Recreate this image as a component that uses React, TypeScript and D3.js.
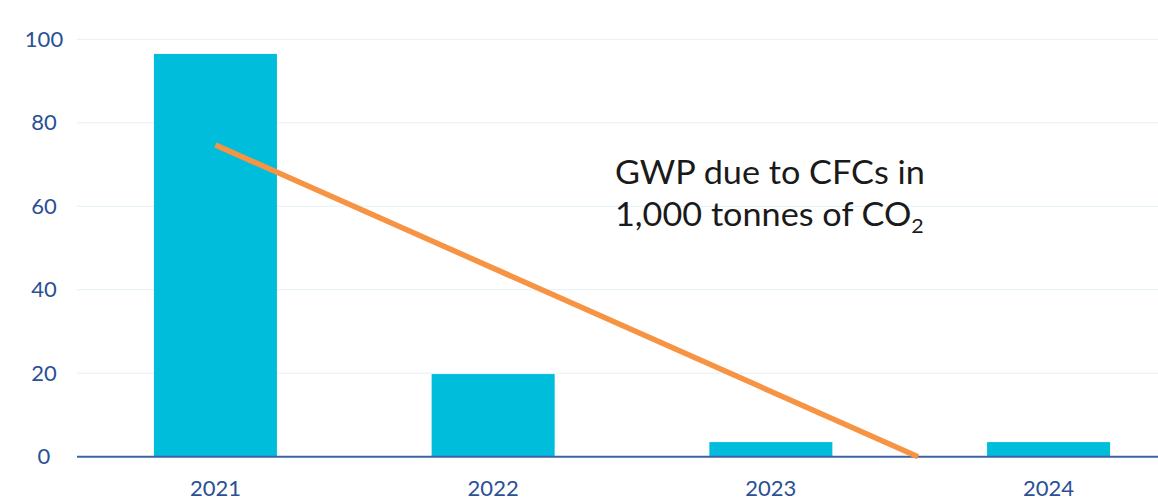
import { useEffect, useRef } from "react";
import * as d3 from "d3";

const years = ["2021", "2022", "2023", "2024"];
const gwpValues = [96.5, 19.8, 3.5, 3.5];
// trend line: category index -> value
const trendIndex = [0, 2.53];
const trendValues = [74.7, 0];
const yTicks = [0, 20, 40, 60, 80, 100];
const noteLines = ["GWP due to CFCs in", "1,000 tonnes of CO"];

const W = 1158;
const H = 500;

export default function App() {
  const svgRef = useRef<SVGSVGElement | null>(null);

  useEffect(() => {
    if (!svgRef.current) return;
    const svg = d3.select(svgRef.current);
    svg.selectAll("*").remove();

    const left = 77;
    const right = 1187;
    const y0 = 456.7;
    const y100 = 39.3;

    const x = d3
      .scaleBand<string>()
      .domain(years)
      .range([left, right])
      .paddingInner(0.557)
      .paddingOuter(0.277);

    const y = d3.scaleLinear().domain([0, 100]).range([y0, y100]);

    // index scale for trend line, aligned to band centres
    const xi = d3
      .scaleLinear()
      .domain([0, years.length - 1])
      .range([
        (x(years[0]) || 0) + x.bandwidth() / 2,
        (x(years[years.length - 1]) || 0) + x.bandwidth() / 2,
      ]);

    const font = "Lato, 'Open Sans', sans-serif";
    const labelColor = "#2a5095";

    // gridlines
    svg
      .append("g")
      .selectAll("line")
      .data(yTicks.filter((t) => t > 0))
      .enter()
      .append("line")
      .attr("x1", left)
      .attr("x2", W)
      .attr("y1", (d) => y(d))
      .attr("y2", (d) => y(d))
      .attr("stroke", "#e3f0f7")
      .attr("stroke-width", 1);

    // y labels
    svg
      .append("g")
      .selectAll("text")
      .data(yTicks)
      .enter()
      .append("text")
      .attr("x", 44)
      .attr("y", (d) => y(d))
      .attr("dy", "0.35em")
      .attr("text-anchor", "middle")
      .attr("font-family", font)
      .attr("font-size", 22)
      .attr("fill", labelColor)
      .text((d) => d);

    // bars
    svg
      .append("g")
      .selectAll("rect")
      .data(gwpValues)
      .enter()
      .append("rect")
      .attr("x", (_, i) => x(years[i]) || 0)
      .attr("y", (d) => y(d))
      .attr("width", x.bandwidth())
      .attr("height", (d) => y0 - y(d))
      .attr("fill", "#00bedb");

    // baseline
    svg
      .append("line")
      .attr("x1", left)
      .attr("x2", W)
      .attr("y1", y0)
      .attr("y2", y0)
      .attr("stroke", "#3d63a3")
      .attr("stroke-width", 2);

    // x labels
    svg
      .append("g")
      .selectAll("text")
      .data(years)
      .enter()
      .append("text")
      .attr("x", (d) => (x(d) || 0) + x.bandwidth() / 2)
      .attr("y", 496)
      .attr("text-anchor", "middle")
      .attr("font-family", font)
      .attr("font-size", 22)
      .attr("fill", labelColor)
      .text((d) => d);

    // trend line
    const line = d3
      .line<number>()
      .x((_, i) => xi(trendIndex[i]))
      .y((d) => y(d));
    svg
      .append("path")
      .datum(trendValues)
      .attr("d", line)
      .attr("fill", "none")
      .attr("stroke", "#f79443")
      .attr("stroke-width", 5.5);

    // annotation (reference glyphs run a little wider than Lato)
    const note = svg
      .append("g")
      .attr("transform", "translate(615,0) scale(1.07,1)")
      .attr("font-family", font)
      .attr("font-size", 32)
      .attr("fill", "#1a1a1a");
    note.append("text").attr("x", 0).attr("y", 184).text(noteLines[0]);
    const t2 = note.append("text").attr("x", 0).attr("y", 226);
    t2.append("tspan").text(noteLines[1]);
    t2.append("tspan").attr("font-size", 20).attr("dy", 7).text("2");
  }, []);

  return (
    <div style={{ position: "absolute", left: 0, top: 0, width: W, height: H, background: "#fff" }}>
      <svg ref={svgRef} width={W} height={H}></svg>
    </div>
  );
}
